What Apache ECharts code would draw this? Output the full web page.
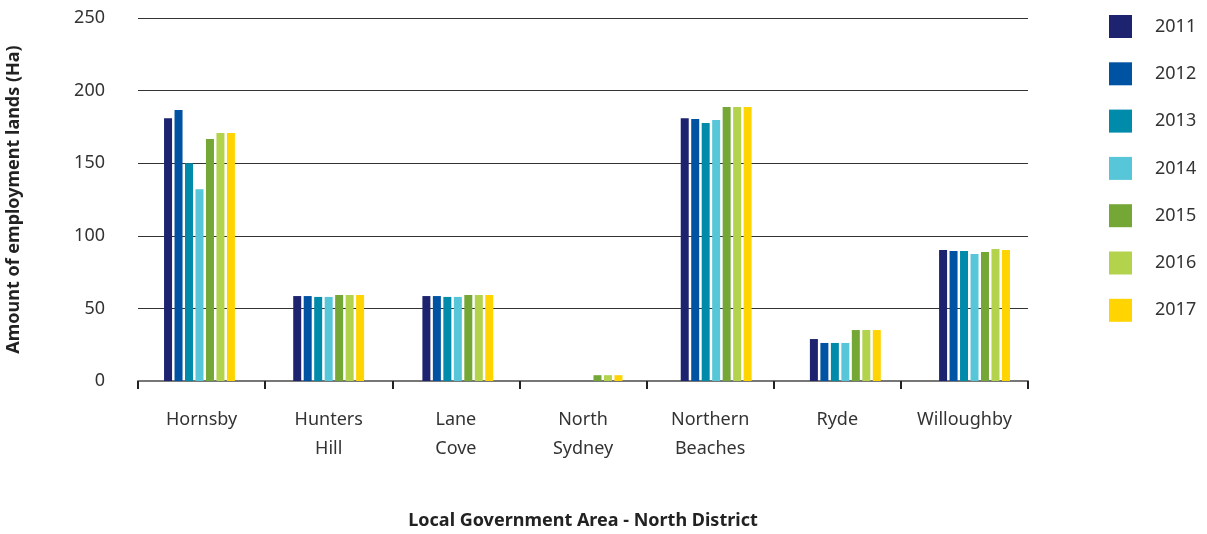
<!DOCTYPE html>
<html><head><meta charset="utf-8">
<script src="https://cdn.jsdelivr.net/npm/echarts@6/dist/echarts.min.js"></script>
<style>html,body{margin:0;padding:0;background:#fff;}#c{width:1207px;height:534px;}</style>
</head><body><div id="c"></div>
<script>
const categories = ['Hornsby', 'Hunters\nHill', 'Lane\nCove', 'North\nSydney', 'Northern\nBeaches', 'Ryde', 'Willoughby'];
const years = ['2011', '2012', '2013', '2014', '2015', '2016', '2017'];
const v2011 = [181, 58.5, 58.5, 0, 181, 28.9, 90.2];
const v2012 = [186.6, 58.5, 58.5, 0, 180.4, 26.2, 89.5];
const v2013 = [150, 57.9, 57.9, 0, 177.7, 26.2, 89.5];
const v2014 = [132, 57.9, 57.9, 0, 179.8, 26.2, 87.5];
const v2015 = [166.7, 59.2, 59.2, 4, 188.7, 35.1, 88.8];
const v2016 = [170.8, 59.2, 59.2, 4, 188.7, 35.1, 90.9];
const v2017 = [170.8, 59.2, 59.2, 4, 188.7, 35.1, 90.2];
const yTicks = [0, 50, 100, 150, 200, 250];
const colors = ['#1E2370', '#0052A3', '#008BAA', '#56C6D8', '#75A736', '#B2D34B', '#FFD400'];
const values = [v2011, v2012, v2013, v2014, v2015, v2016, v2017];
const font = '"Noto Sans", sans-serif';
const yMin = yTicks[0], yMax = yTicks[yTicks.length - 1];
const chart = echarts.init(document.getElementById('c'));
chart.setOption({
  animation: false,
  color: colors,
  grid: [
    { left: 138, right: 179, top: 18, bottom: 153, outerBoundsMode: 'none', containLabel: false },
    { left: 134.9, right: 167.9, top: 18, bottom: 153, outerBoundsMode: 'none', containLabel: false }
  ],
  legend: {
    orient: 'vertical', left: 1104, top: 10,
    itemWidth: 23, itemHeight: 23, itemGap: 24.3,
    icon: 'rect',
    textStyle: { fontSize: 18, color: '#333', fontFamily: font, padding: [0, 0, 0, 18] },
    data: years
  },
  xAxis: [{
    gridIndex: 0, type: 'category', data: categories,
    name: 'Local Government Area - North District',
    nameLocation: 'middle', nameGap: 131,
    nameTextStyle: { fontSize: 18, fontWeight: 'bold', color: '#222', fontFamily: font },
    axisLine: { lineStyle: { color: '#777', width: 2 } },
    axisTick: { show: true, interval: 0, length: 8, lineStyle: { color: '#222', width: 2 } },
    axisLabel: { interval: 0, fontSize: 18, color: '#333', fontFamily: font, margin: 24, lineHeight: 29 }
  }, {
    gridIndex: 1, type: 'category', data: categories, show: false
  }],
  yAxis: [{
    gridIndex: 0, type: 'value', min: yMin, max: yMax, interval: 50,
    name: 'Amount of employment lands (Ha)',
    nameLocation: 'middle', nameGap: 115, nameRotate: 90,
    nameTextStyle: { fontSize: 18, fontWeight: 'bold', color: '#222', fontFamily: font },
    axisLine: { show: false }, axisTick: { show: false },
    axisLabel: { fontSize: 18, color: '#333', fontFamily: font, margin: 33 },
    splitLine: { lineStyle: { color: '#333', width: 1 } }
  }, {
    gridIndex: 1, type: 'value', min: yMin, max: yMax, interval: 50, show: false,
    splitLine: { show: false }
  }],
  series: years.map((y, i) => ({
    name: y, type: 'bar', xAxisIndex: 1, yAxisIndex: 1,
    data: values[i], barWidth: 8, barGap: '31%'
  }))
});
</script></body></html>
